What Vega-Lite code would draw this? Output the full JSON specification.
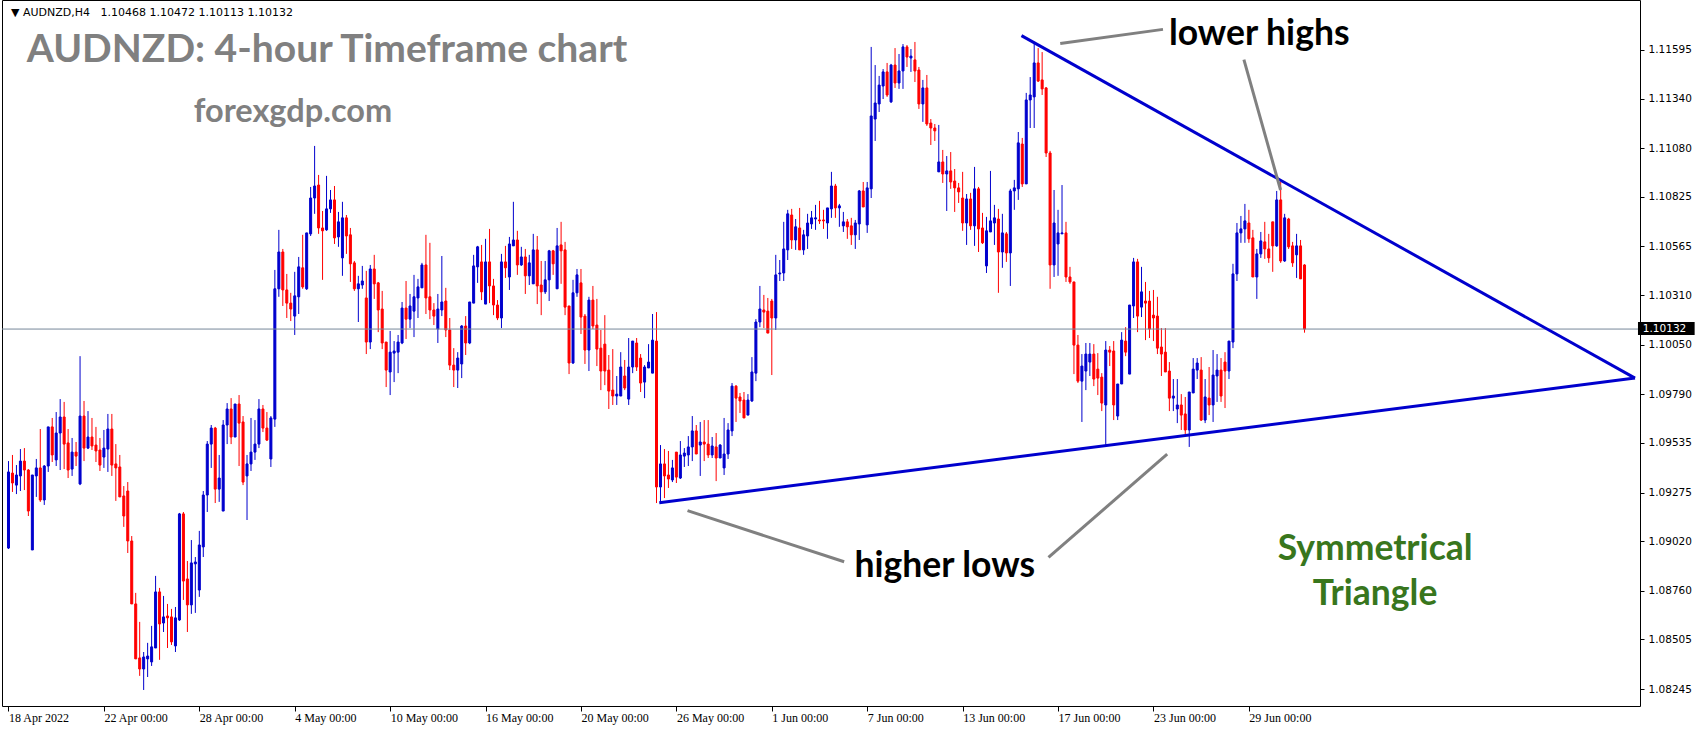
{
"$schema": "https://vega.github.io/schema/vega-lite/v6.json",
"width": 1638, "height": 706,
"autosize": {"type": "none"},
"padding": {"left": 2, "top": 0, "right": 64, "bottom": 24},
"background": "white",
"config": {
"view": {"stroke": "#000000", "strokeWidth": 1},
"axis": {"grid": false, "title": null, "domain": false, "tickColor": "#000000", "labelColor": "#000000", "labelBound": false, "labelOverlap": false, "labelFlush": false}
},
"datasets": {
"candles": [
{"i":0,"o":1.08984,"h":1.09440,"l":1.08979,"c":1.09383},
{"i":1,"o":1.09377,"h":1.09472,"l":1.09278,"c":1.09325},
{"i":2,"o":1.09314,"h":1.09419,"l":1.09267,"c":1.09367},
{"i":3,"o":1.09362,"h":1.09503,"l":1.09283,"c":1.09440},
{"i":4,"o":1.09440,"h":1.09508,"l":1.09288,"c":1.09393},
{"i":5,"o":1.09393,"h":1.09398,"l":1.09152,"c":1.09178},
{"i":6,"o":1.08974,"h":1.09367,"l":1.08974,"c":1.09367},
{"i":7,"o":1.09362,"h":1.09451,"l":1.09252,"c":1.09404},
{"i":8,"o":1.09404,"h":1.09608,"l":1.09226,"c":1.09236},
{"i":9,"o":1.09236,"h":1.09419,"l":1.09210,"c":1.09414},
{"i":10,"o":1.09414,"h":1.09619,"l":1.09383,"c":1.09619},
{"i":11,"o":1.09619,"h":1.09666,"l":1.09435,"c":1.09472},
{"i":12,"o":1.09446,"h":1.09697,"l":1.09414,"c":1.09587},
{"i":13,"o":1.09587,"h":1.09765,"l":1.09393,"c":1.09671},
{"i":14,"o":1.09671,"h":1.09750,"l":1.09398,"c":1.09529},
{"i":15,"o":1.09535,"h":1.09608,"l":1.09351,"c":1.09393},
{"i":16,"o":1.09398,"h":1.09561,"l":1.09362,"c":1.09487},
{"i":17,"o":1.09487,"h":1.09540,"l":1.09414,"c":1.09466},
{"i":18,"o":1.09320,"h":1.09990,"l":1.09314,"c":1.09676},
{"i":19,"o":1.09676,"h":1.09755,"l":1.09440,"c":1.09508},
{"i":20,"o":1.09508,"h":1.09702,"l":1.09503,"c":1.09566},
{"i":21,"o":1.09566,"h":1.09666,"l":1.09498,"c":1.09519},
{"i":22,"o":1.09524,"h":1.09619,"l":1.09435,"c":1.09493},
{"i":23,"o":1.09498,"h":1.09561,"l":1.09388,"c":1.09419},
{"i":24,"o":1.09461,"h":1.09603,"l":1.09404,"c":1.09508},
{"i":25,"o":1.09503,"h":1.09687,"l":1.09383,"c":1.09608},
{"i":26,"o":1.09608,"h":1.09687,"l":1.09362,"c":1.09419},
{"i":27,"o":1.09425,"h":1.09529,"l":1.09231,"c":1.09404},
{"i":28,"o":1.09409,"h":1.09472,"l":1.09252,"c":1.09252},
{"i":29,"o":1.09257,"h":1.09309,"l":1.09095,"c":1.09152},
{"i":30,"o":1.09283,"h":1.09330,"l":1.08958,"c":1.09021},
{"i":31,"o":1.09021,"h":1.09047,"l":1.08691,"c":1.08691},
{"i":32,"o":1.08691,"h":1.08749,"l":1.08403,"c":1.08403},
{"i":33,"o":1.08408,"h":1.08597,"l":1.08314,"c":1.08350},
{"i":34,"o":1.08350,"h":1.08439,"l":1.08240,"c":1.08413},
{"i":35,"o":1.08403,"h":1.08487,"l":1.08308,"c":1.08418},
{"i":36,"o":1.08387,"h":1.08576,"l":1.08366,"c":1.08466},
{"i":37,"o":1.08460,"h":1.08838,"l":1.08460,"c":1.08754},
{"i":38,"o":1.08754,"h":1.08775,"l":1.08398,"c":1.08586},
{"i":39,"o":1.08591,"h":1.08733,"l":1.08544,"c":1.08623},
{"i":40,"o":1.08628,"h":1.08691,"l":1.08460,"c":1.08618},
{"i":41,"o":1.08623,"h":1.08665,"l":1.08476,"c":1.08492},
{"i":42,"o":1.08471,"h":1.08675,"l":1.08439,"c":1.08618},
{"i":43,"o":1.08607,"h":1.09168,"l":1.08602,"c":1.09163},
{"i":44,"o":1.09163,"h":1.09173,"l":1.08712,"c":1.08811},
{"i":45,"o":1.08822,"h":1.08916,"l":1.08544,"c":1.08686},
{"i":46,"o":1.08686,"h":1.09026,"l":1.08639,"c":1.08906},
{"i":47,"o":1.08901,"h":1.08937,"l":1.08644,"c":1.08911},
{"i":48,"o":1.08764,"h":1.09074,"l":1.08728,"c":1.09000},
{"i":49,"o":1.08990,"h":1.09283,"l":1.08937,"c":1.09262},
{"i":50,"o":1.09262,"h":1.09545,"l":1.09173,"c":1.09529},
{"i":51,"o":1.09529,"h":1.09629,"l":1.09404,"c":1.09613},
{"i":52,"o":1.09613,"h":1.09619,"l":1.09220,"c":1.09293},
{"i":53,"o":1.09293,"h":1.09472,"l":1.09226,"c":1.09351},
{"i":54,"o":1.09178,"h":1.09655,"l":1.09178,"c":1.09629},
{"i":55,"o":1.09629,"h":1.09744,"l":1.09529,"c":1.09713},
{"i":56,"o":1.09713,"h":1.09770,"l":1.09529,"c":1.09566},
{"i":57,"o":1.09566,"h":1.09739,"l":1.09566,"c":1.09739},
{"i":58,"o":1.09739,"h":1.09786,"l":1.09414,"c":1.09639},
{"i":59,"o":1.09645,"h":1.09676,"l":1.09314,"c":1.09330},
{"i":60,"o":1.09362,"h":1.09472,"l":1.09131,"c":1.09425},
{"i":61,"o":1.09425,"h":1.09666,"l":1.09388,"c":1.09487},
{"i":62,"o":1.09487,"h":1.09655,"l":1.09446,"c":1.09529},
{"i":63,"o":1.09529,"h":1.09765,"l":1.09508,"c":1.09713},
{"i":64,"o":1.09713,"h":1.09734,"l":1.09592,"c":1.09613},
{"i":65,"o":1.09613,"h":1.09697,"l":1.09545,"c":1.09550},
{"i":66,"o":1.09451,"h":1.09676,"l":1.09409,"c":1.09666},
{"i":67,"o":1.09660,"h":1.10442,"l":1.09619,"c":1.10343},
{"i":68,"o":1.10343,"h":1.10652,"l":1.10301,"c":1.10536},
{"i":69,"o":1.10536,"h":1.10552,"l":1.10253,"c":1.10337},
{"i":70,"o":1.10337,"h":1.10421,"l":1.10190,"c":1.10268},
{"i":71,"o":1.10268,"h":1.10322,"l":1.10174,"c":1.10237},
{"i":72,"o":1.10200,"h":1.10432,"l":1.10101,"c":1.10306},
{"i":73,"o":1.10301,"h":1.10510,"l":1.10211,"c":1.10458},
{"i":74,"o":1.10453,"h":1.10626,"l":1.10343,"c":1.10353},
{"i":75,"o":1.10343,"h":1.10636,"l":1.10337,"c":1.10636},
{"i":76,"o":1.10631,"h":1.10877,"l":1.10620,"c":1.10819},
{"i":77,"o":1.10819,"h":1.11092,"l":1.10736,"c":1.10882},
{"i":78,"o":1.10887,"h":1.10940,"l":1.10631,"c":1.10662},
{"i":79,"o":1.10662,"h":1.10751,"l":1.10390,"c":1.10647},
{"i":80,"o":1.10652,"h":1.10935,"l":1.10647,"c":1.10762},
{"i":81,"o":1.10762,"h":1.10861,"l":1.10741,"c":1.10809},
{"i":82,"o":1.10809,"h":1.10882,"l":1.10578,"c":1.10610},
{"i":83,"o":1.10615,"h":1.10746,"l":1.10563,"c":1.10694},
{"i":84,"o":1.10505,"h":1.10799,"l":1.10411,"c":1.10715},
{"i":85,"o":1.10715,"h":1.10730,"l":1.10526,"c":1.10620},
{"i":86,"o":1.10626,"h":1.10662,"l":1.10379,"c":1.10474},
{"i":87,"o":1.10479,"h":1.10489,"l":1.10332,"c":1.10343},
{"i":88,"o":1.10343,"h":1.10411,"l":1.10169,"c":1.10369},
{"i":89,"o":1.10363,"h":1.10463,"l":1.10343,"c":1.10384},
{"i":90,"o":1.10295,"h":1.10437,"l":1.10001,"c":1.10064},
{"i":91,"o":1.10064,"h":1.10468,"l":1.10027,"c":1.10447},
{"i":92,"o":1.10447,"h":1.10521,"l":1.10290,"c":1.10369},
{"i":93,"o":1.10374,"h":1.10379,"l":1.10116,"c":1.10232},
{"i":94,"o":1.10237,"h":1.10332,"l":1.10027,"c":1.10059},
{"i":95,"o":1.10064,"h":1.10064,"l":1.09828,"c":1.09917},
{"i":96,"o":1.09907,"h":1.10122,"l":1.09786,"c":1.10011},
{"i":97,"o":1.10006,"h":1.10069,"l":1.09854,"c":1.10017},
{"i":98,"o":1.10011,"h":1.10101,"l":1.09901,"c":1.10064},
{"i":99,"o":1.10059,"h":1.10274,"l":1.10053,"c":1.10242},
{"i":100,"o":1.10242,"h":1.10384,"l":1.10080,"c":1.10184},
{"i":101,"o":1.10184,"h":1.10316,"l":1.10137,"c":1.10253},
{"i":102,"o":1.10226,"h":1.10416,"l":1.10090,"c":1.10301},
{"i":103,"o":1.10295,"h":1.10395,"l":1.10190,"c":1.10353},
{"i":104,"o":1.10348,"h":1.10479,"l":1.10348,"c":1.10468},
{"i":105,"o":1.10468,"h":1.10626,"l":1.10211,"c":1.10295},
{"i":106,"o":1.10301,"h":1.10584,"l":1.10184,"c":1.10232},
{"i":107,"o":1.10232,"h":1.10268,"l":1.10153,"c":1.10200},
{"i":108,"o":1.10132,"h":1.10316,"l":1.10059,"c":1.10237},
{"i":109,"o":1.10232,"h":1.10515,"l":1.10200,"c":1.10274},
{"i":110,"o":1.10279,"h":1.10348,"l":1.10090,"c":1.10127},
{"i":111,"o":1.10127,"h":1.10190,"l":1.09917,"c":1.09943},
{"i":112,"o":1.09943,"h":1.10032,"l":1.09828,"c":1.09917},
{"i":113,"o":1.09917,"h":1.10011,"l":1.09823,"c":1.09980},
{"i":114,"o":1.09949,"h":1.10153,"l":1.09875,"c":1.10148},
{"i":115,"o":1.10148,"h":1.10200,"l":1.09996,"c":1.10059},
{"i":116,"o":1.10059,"h":1.10274,"l":1.10053,"c":1.10274},
{"i":117,"o":1.10268,"h":1.10521,"l":1.10268,"c":1.10463},
{"i":118,"o":1.10458,"h":1.10568,"l":1.10374,"c":1.10563},
{"i":119,"o":1.10484,"h":1.10573,"l":1.10284,"c":1.10327},
{"i":120,"o":1.10263,"h":1.10605,"l":1.10263,"c":1.10484},
{"i":121,"o":1.10484,"h":1.10657,"l":1.10268,"c":1.10358},
{"i":122,"o":1.10358,"h":1.10395,"l":1.10205,"c":1.10258},
{"i":123,"o":1.10258,"h":1.10284,"l":1.10179,"c":1.10190},
{"i":124,"o":1.10190,"h":1.10526,"l":1.10137,"c":1.10484},
{"i":125,"o":1.10484,"h":1.10568,"l":1.10400,"c":1.10453},
{"i":126,"o":1.10405,"h":1.10615,"l":1.10337,"c":1.10578},
{"i":127,"o":1.10568,"h":1.10799,"l":1.10568,"c":1.10599},
{"i":128,"o":1.10599,"h":1.10647,"l":1.10416,"c":1.10468},
{"i":129,"o":1.10468,"h":1.10563,"l":1.10463,"c":1.10510},
{"i":130,"o":1.10510,"h":1.10552,"l":1.10316,"c":1.10411},
{"i":131,"o":1.10411,"h":1.10521,"l":1.10363,"c":1.10479},
{"i":132,"o":1.10369,"h":1.10631,"l":1.10369,"c":1.10547},
{"i":133,"o":1.10547,"h":1.10620,"l":1.10263,"c":1.10358},
{"i":134,"o":1.10363,"h":1.10489,"l":1.10205,"c":1.10327},
{"i":135,"o":1.10327,"h":1.10489,"l":1.10316,"c":1.10390},
{"i":136,"o":1.10390,"h":1.10547,"l":1.10279,"c":1.10542},
{"i":137,"o":1.10542,"h":1.10547,"l":1.10416,"c":1.10474},
{"i":138,"o":1.10343,"h":1.10662,"l":1.10343,"c":1.10568},
{"i":139,"o":1.10573,"h":1.10694,"l":1.10369,"c":1.10542},
{"i":140,"o":1.10547,"h":1.10589,"l":1.10205,"c":1.10247},
{"i":141,"o":1.10253,"h":1.10253,"l":1.09896,"c":1.09954},
{"i":142,"o":1.09954,"h":1.10390,"l":1.09949,"c":1.10322},
{"i":143,"o":1.10322,"h":1.10447,"l":1.10301,"c":1.10416},
{"i":144,"o":1.10374,"h":1.10447,"l":1.10106,"c":1.10195},
{"i":145,"o":1.10200,"h":1.10211,"l":1.09949,"c":1.10022},
{"i":146,"o":1.10022,"h":1.10301,"l":1.09912,"c":1.10284},
{"i":147,"o":1.10284,"h":1.10358,"l":1.10132,"c":1.10148},
{"i":148,"o":1.10153,"h":1.10290,"l":1.09938,"c":1.10027},
{"i":149,"o":1.10032,"h":1.10127,"l":1.09812,"c":1.09912},
{"i":150,"o":1.10053,"h":1.10205,"l":1.09838,"c":1.09912},
{"i":151,"o":1.09917,"h":1.09996,"l":1.09713,"c":1.09807},
{"i":152,"o":1.09812,"h":1.10027,"l":1.09734,"c":1.09781},
{"i":153,"o":1.09781,"h":1.09886,"l":1.09734,"c":1.09791},
{"i":154,"o":1.09781,"h":1.10011,"l":1.09781,"c":1.09933},
{"i":155,"o":1.09886,"h":1.09970,"l":1.09812,"c":1.09823},
{"i":156,"o":1.09765,"h":1.10085,"l":1.09734,"c":1.09933},
{"i":157,"o":1.09933,"h":1.10069,"l":1.09901,"c":1.10069},
{"i":158,"o":1.10059,"h":1.10085,"l":1.09912,"c":1.09933},
{"i":159,"o":1.09980,"h":1.10001,"l":1.09802,"c":1.09849},
{"i":160,"o":1.09854,"h":1.09943,"l":1.09770,"c":1.09933},
{"i":161,"o":1.09928,"h":1.10053,"l":1.09928,"c":1.09959},
{"i":162,"o":1.09901,"h":1.10211,"l":1.09901,"c":1.10074},
{"i":163,"o":1.10069,"h":1.10221,"l":1.09220,"c":1.09304},
{"i":164,"o":1.09304,"h":1.09524,"l":1.09220,"c":1.09425},
{"i":165,"o":1.09425,"h":1.09503,"l":1.09246,"c":1.09362},
{"i":166,"o":1.09367,"h":1.09493,"l":1.09299,"c":1.09346},
{"i":167,"o":1.09341,"h":1.09446,"l":1.09330,"c":1.09404},
{"i":168,"o":1.09487,"h":1.09487,"l":1.09325,"c":1.09356},
{"i":169,"o":1.09351,"h":1.09545,"l":1.09346,"c":1.09472},
{"i":170,"o":1.09466,"h":1.09508,"l":1.09409,"c":1.09482},
{"i":171,"o":1.09472,"h":1.09571,"l":1.09414,"c":1.09514},
{"i":172,"o":1.09514,"h":1.09676,"l":1.09440,"c":1.09598},
{"i":173,"o":1.09598,"h":1.09629,"l":1.09477,"c":1.09477},
{"i":174,"o":1.09524,"h":1.09645,"l":1.09362,"c":1.09540},
{"i":175,"o":1.09540,"h":1.09655,"l":1.09440,"c":1.09529},
{"i":176,"o":1.09529,"h":1.09655,"l":1.09456,"c":1.09472},
{"i":177,"o":1.09472,"h":1.09566,"l":1.09456,"c":1.09519},
{"i":178,"o":1.09514,"h":1.09587,"l":1.09335,"c":1.09456},
{"i":179,"o":1.09456,"h":1.09529,"l":1.09456,"c":1.09524},
{"i":180,"o":1.09404,"h":1.09666,"l":1.09367,"c":1.09477},
{"i":181,"o":1.09477,"h":1.09639,"l":1.09451,"c":1.09603},
{"i":182,"o":1.09598,"h":1.09849,"l":1.09571,"c":1.09833},
{"i":183,"o":1.09833,"h":1.09838,"l":1.09645,"c":1.09770},
{"i":184,"o":1.09776,"h":1.09797,"l":1.09692,"c":1.09755},
{"i":185,"o":1.09760,"h":1.09802,"l":1.09666,"c":1.09666},
{"i":186,"o":1.09681,"h":1.09791,"l":1.09681,"c":1.09760},
{"i":187,"o":1.09755,"h":1.09985,"l":1.09750,"c":1.09907},
{"i":188,"o":1.09901,"h":1.10184,"l":1.09859,"c":1.10169},
{"i":189,"o":1.10169,"h":1.10358,"l":1.10142,"c":1.10237},
{"i":190,"o":1.10232,"h":1.10311,"l":1.10137,"c":1.10221},
{"i":191,"o":1.10226,"h":1.10295,"l":1.10111,"c":1.10111},
{"i":192,"o":1.10279,"h":1.10290,"l":1.09891,"c":1.10190},
{"i":193,"o":1.10190,"h":1.10521,"l":1.10127,"c":1.10416},
{"i":194,"o":1.10421,"h":1.10494,"l":1.10384,"c":1.10426},
{"i":195,"o":1.10426,"h":1.10694,"l":1.10384,"c":1.10552},
{"i":196,"o":1.10547,"h":1.10757,"l":1.10494,"c":1.10736},
{"i":197,"o":1.10730,"h":1.10762,"l":1.10552,"c":1.10599},
{"i":198,"o":1.10599,"h":1.10709,"l":1.10547,"c":1.10668},
{"i":199,"o":1.10662,"h":1.10767,"l":1.10547,"c":1.10547},
{"i":200,"o":1.10547,"h":1.10652,"l":1.10521,"c":1.10626},
{"i":201,"o":1.10620,"h":1.10736,"l":1.10552,"c":1.10688},
{"i":202,"o":1.10683,"h":1.10751,"l":1.10657,"c":1.10715},
{"i":203,"o":1.10709,"h":1.10783,"l":1.10652,"c":1.10715},
{"i":204,"o":1.10704,"h":1.10804,"l":1.10683,"c":1.10699},
{"i":205,"o":1.10704,"h":1.10757,"l":1.10657,"c":1.10699},
{"i":206,"o":1.10688,"h":1.10767,"l":1.10605,"c":1.10767},
{"i":207,"o":1.10762,"h":1.10956,"l":1.10715,"c":1.10882},
{"i":208,"o":1.10882,"h":1.10893,"l":1.10715,"c":1.10767},
{"i":209,"o":1.10767,"h":1.10788,"l":1.10668,"c":1.10778},
{"i":210,"o":1.10673,"h":1.10746,"l":1.10641,"c":1.10694},
{"i":211,"o":1.10694,"h":1.10709,"l":1.10605,"c":1.10668},
{"i":212,"o":1.10673,"h":1.10715,"l":1.10573,"c":1.10626},
{"i":213,"o":1.10626,"h":1.10704,"l":1.10552,"c":1.10688},
{"i":214,"o":1.10683,"h":1.10861,"l":1.10599,"c":1.10856},
{"i":215,"o":1.10856,"h":1.10903,"l":1.10772,"c":1.10772},
{"i":216,"o":1.10678,"h":1.10903,"l":1.10636,"c":1.10872},
{"i":217,"o":1.10867,"h":1.11611,"l":1.10819,"c":1.11249},
{"i":218,"o":1.11233,"h":1.11516,"l":1.11118,"c":1.11317},
{"i":219,"o":1.11312,"h":1.11459,"l":1.11270,"c":1.11411},
{"i":220,"o":1.11406,"h":1.11495,"l":1.11338,"c":1.11480},
{"i":221,"o":1.11480,"h":1.11527,"l":1.11349,"c":1.11359},
{"i":222,"o":1.11323,"h":1.11522,"l":1.11317,"c":1.11516},
{"i":223,"o":1.11516,"h":1.11605,"l":1.11396,"c":1.11422},
{"i":224,"o":1.11422,"h":1.11574,"l":1.11391,"c":1.11485},
{"i":225,"o":1.11485,"h":1.11626,"l":1.11391,"c":1.11611},
{"i":226,"o":1.11611,"h":1.11621,"l":1.11506,"c":1.11558},
{"i":227,"o":1.11553,"h":1.11600,"l":1.11480,"c":1.11563},
{"i":228,"o":1.11543,"h":1.11637,"l":1.11427,"c":1.11485},
{"i":229,"o":1.11490,"h":1.11506,"l":1.11286,"c":1.11312},
{"i":230,"o":1.11312,"h":1.11438,"l":1.11218,"c":1.11396},
{"i":231,"o":1.11396,"h":1.11464,"l":1.11197,"c":1.11207},
{"i":232,"o":1.11212,"h":1.11233,"l":1.11097,"c":1.11186},
{"i":233,"o":1.11186,"h":1.11207,"l":1.11118,"c":1.11171},
{"i":234,"o":1.10956,"h":1.11202,"l":1.10956,"c":1.11008},
{"i":235,"o":1.11008,"h":1.11071,"l":1.10898,"c":1.10945},
{"i":236,"o":1.10945,"h":1.11039,"l":1.10751,"c":1.10961},
{"i":237,"o":1.10961,"h":1.11060,"l":1.10867,"c":1.10903},
{"i":238,"o":1.10908,"h":1.10971,"l":1.10746,"c":1.10872},
{"i":239,"o":1.10872,"h":1.10898,"l":1.10793,"c":1.10851},
{"i":240,"o":1.10819,"h":1.10956,"l":1.10647,"c":1.10688},
{"i":241,"o":1.10688,"h":1.10840,"l":1.10573,"c":1.10814},
{"i":242,"o":1.10814,"h":1.10846,"l":1.10652,"c":1.10673},
{"i":243,"o":1.10673,"h":1.10982,"l":1.10568,"c":1.10867},
{"i":244,"o":1.10867,"h":1.10877,"l":1.10536,"c":1.10657},
{"i":245,"o":1.10662,"h":1.10741,"l":1.10578,"c":1.10584},
{"i":246,"o":1.10463,"h":1.10720,"l":1.10426,"c":1.10647},
{"i":247,"o":1.10641,"h":1.10961,"l":1.10641,"c":1.10699},
{"i":248,"o":1.10688,"h":1.10783,"l":1.10573,"c":1.10715},
{"i":249,"o":1.10709,"h":1.10762,"l":1.10322,"c":1.10536},
{"i":250,"o":1.10536,"h":1.10736,"l":1.10453,"c":1.10636},
{"i":251,"o":1.10631,"h":1.10641,"l":1.10484,"c":1.10531},
{"i":252,"o":1.10531,"h":1.10867,"l":1.10358,"c":1.10856},
{"i":253,"o":1.10856,"h":1.10914,"l":1.10757,"c":1.10872},
{"i":254,"o":1.10867,"h":1.11165,"l":1.10809,"c":1.11108},
{"i":255,"o":1.11102,"h":1.11134,"l":1.10877,"c":1.10893},
{"i":256,"o":1.10893,"h":1.11370,"l":1.10893,"c":1.11333},
{"i":257,"o":1.11333,"h":1.11453,"l":1.11186,"c":1.11359},
{"i":258,"o":1.11349,"h":1.11637,"l":1.11186,"c":1.11527},
{"i":259,"o":1.11527,"h":1.11605,"l":1.11427,"c":1.11432},
{"i":260,"o":1.11438,"h":1.11584,"l":1.11359,"c":1.11391},
{"i":261,"o":1.11396,"h":1.11401,"l":1.11034,"c":1.11055},
{"i":262,"o":1.11055,"h":1.11066,"l":1.10343,"c":1.10468},
{"i":263,"o":1.10468,"h":1.10861,"l":1.10405,"c":1.10688},
{"i":264,"o":1.10578,"h":1.10757,"l":1.10411,"c":1.10636},
{"i":265,"o":1.10631,"h":1.10887,"l":1.10631,"c":1.10636},
{"i":266,"o":1.10636,"h":1.10694,"l":1.10379,"c":1.10405},
{"i":267,"o":1.10405,"h":1.10458,"l":1.10369,"c":1.10379},
{"i":268,"o":1.10379,"h":1.10379,"l":1.09896,"c":1.10048},
{"i":269,"o":1.10048,"h":1.10101,"l":1.09849,"c":1.09859},
{"i":270,"o":1.09859,"h":1.10001,"l":1.09645,"c":1.09938},
{"i":271,"o":1.09912,"h":1.10059,"l":1.09812,"c":1.10001},
{"i":272,"o":1.09959,"h":1.10059,"l":1.09886,"c":1.10001},
{"i":273,"o":1.10001,"h":1.10053,"l":1.09833,"c":1.09870},
{"i":274,"o":1.09922,"h":1.10006,"l":1.09786,"c":1.09875},
{"i":275,"o":1.09880,"h":1.09901,"l":1.09702,"c":1.09744},
{"i":276,"o":1.09734,"h":1.10069,"l":1.09524,"c":1.10022},
{"i":277,"o":1.10022,"h":1.10043,"l":1.09938,"c":1.10011},
{"i":278,"o":1.10017,"h":1.10069,"l":1.09655,"c":1.09734},
{"i":279,"o":1.09676,"h":1.09844,"l":1.09655,"c":1.09844},
{"i":280,"o":1.09844,"h":1.10116,"l":1.09844,"c":1.10074},
{"i":281,"o":1.10069,"h":1.10142,"l":1.09990,"c":1.10011},
{"i":282,"o":1.09896,"h":1.10258,"l":1.09896,"c":1.10258},
{"i":283,"o":1.10253,"h":1.10505,"l":1.10190,"c":1.10484},
{"i":284,"o":1.10484,"h":1.10500,"l":1.10116,"c":1.10200},
{"i":285,"o":1.10247,"h":1.10458,"l":1.10195,"c":1.10327},
{"i":286,"o":1.10279,"h":1.10379,"l":1.10074,"c":1.10268},
{"i":287,"o":1.10279,"h":1.10332,"l":1.10085,"c":1.10132},
{"i":288,"o":1.10205,"h":1.10337,"l":1.10069,"c":1.10190},
{"i":289,"o":1.10200,"h":1.10301,"l":1.10001,"c":1.10032},
{"i":290,"o":1.10038,"h":1.10137,"l":1.09886,"c":1.10001},
{"i":291,"o":1.10011,"h":1.10137,"l":1.09907,"c":1.09907},
{"i":292,"o":1.09912,"h":1.09959,"l":1.09702,"c":1.09770},
{"i":293,"o":1.09770,"h":1.09870,"l":1.09702,"c":1.09781},
{"i":294,"o":1.09713,"h":1.09870,"l":1.09639,"c":1.09734},
{"i":295,"o":1.09734,"h":1.09791,"l":1.09603,"c":1.09681},
{"i":296,"o":1.09687,"h":1.09776,"l":1.09582,"c":1.09603},
{"i":297,"o":1.09603,"h":1.09802,"l":1.09514,"c":1.09802},
{"i":298,"o":1.09797,"h":1.09980,"l":1.09797,"c":1.09922},
{"i":299,"o":1.09917,"h":1.09980,"l":1.09870,"c":1.09954},
{"i":300,"o":1.09917,"h":1.09985,"l":1.09650,"c":1.09655},
{"i":301,"o":1.09655,"h":1.09870,"l":1.09639,"c":1.09776},
{"i":302,"o":1.09770,"h":1.09933,"l":1.09681,"c":1.09734},
{"i":303,"o":1.09734,"h":1.10022,"l":1.09645,"c":1.09891},
{"i":304,"o":1.09886,"h":1.10001,"l":1.09750,"c":1.09917},
{"i":305,"o":1.09917,"h":1.09980,"l":1.09750,"c":1.09781},
{"i":306,"o":1.09959,"h":1.10011,"l":1.09718,"c":1.09912},
{"i":307,"o":1.09912,"h":1.10069,"l":1.09870,"c":1.10069},
{"i":308,"o":1.10064,"h":1.10474,"l":1.10032,"c":1.10421},
{"i":309,"o":1.10421,"h":1.10688,"l":1.10384,"c":1.10636},
{"i":310,"o":1.10636,"h":1.10725,"l":1.10584,"c":1.10657},
{"i":311,"o":1.10657,"h":1.10788,"l":1.10584,"c":1.10699},
{"i":312,"o":1.10688,"h":1.10757,"l":1.10584,"c":1.10605},
{"i":313,"o":1.10610,"h":1.10652,"l":1.10405,"c":1.10405},
{"i":314,"o":1.10405,"h":1.10552,"l":1.10290,"c":1.10526},
{"i":315,"o":1.10526,"h":1.10641,"l":1.10505,"c":1.10594},
{"i":316,"o":1.10589,"h":1.10694,"l":1.10500,"c":1.10552},
{"i":317,"o":1.10552,"h":1.10631,"l":1.10479,"c":1.10505},
{"i":318,"o":1.10694,"h":1.10694,"l":1.10432,"c":1.10568},
{"i":319,"o":1.10568,"h":1.10856,"l":1.10563,"c":1.10809},
{"i":320,"o":1.10809,"h":1.10903,"l":1.10479,"c":1.10489},
{"i":321,"o":1.10489,"h":1.10736,"l":1.10484,"c":1.10715},
{"i":322,"o":1.10709,"h":1.10715,"l":1.10552,"c":1.10563},
{"i":323,"o":1.10568,"h":1.10589,"l":1.10458,"c":1.10479},
{"i":324,"o":1.10521,"h":1.10631,"l":1.10400,"c":1.10568},
{"i":325,"o":1.10568,"h":1.10599,"l":1.10395,"c":1.10395},
{"i":326,"o":1.10468,"h":1.10472,"l":1.10113,"c":1.10132}
]
},
"layer": [
{
"data": {"name": "candles"},
"mark": {"type": "rule", "strokeWidth": 1},
"encoding": {
"x": {"field": "i", "type": "quantitative", "scale": {"domain": [-0.375, 409.125], "nice": false, "zero": false},
"axis": {"orient": "bottom", "values": [0,24,48,72,96,120,144,168,192,216,240,264,288,312], "labelExpr": "['18 Apr 2022','22 Apr 00:00','28 Apr 00:00','4 May 00:00','10 May 00:00','16 May 00:00','20 May 00:00','26 May 00:00','1 Jun 00:00','7 Jun 00:00','13 Jun 00:00','17 Jun 00:00','23 Jun 00:00','29 Jun 00:00'][datum.value / 24]", "labelAlign": "left", "tickSize": 5, "labelFont": "Liberation Sans Narrow", "labelFontSize": 12, "labelPadding": 1}},
"y": {"field": "l", "type": "quantitative", "scale": {"domain": [1.08156, 1.11857], "nice": false, "zero": false},
"axis": {"orient": "right", "values": [1.08245,1.08505,1.0876,1.0902,1.09275,1.09535,1.0979,1.1005,1.1031,1.10565,1.10825,1.1108,1.1134,1.11595], "format": ".5f", "tickSize": 4, "labelFont": "DejaVu Sans", "labelFontSize": 10.5, "labelPadding": 4}},
"y2": {"field": "h"},
"color": {"condition": {"test": "datum.c >= datum.o", "value": "#0000cd"}, "value": "#ff0000"}
}
},
{
"data": {"name": "candles"},
"mark": {"type": "bar", "size": 2, "strokeWidth": 1},
"encoding": {
"x": {"field": "i", "type": "quantitative"},
"y": {"field": "o", "type": "quantitative"},
"y2": {"field": "c"},
"color": {"condition": {"test": "datum.c >= datum.o", "value": "#0000cd"}, "value": "#ff0000"},
"stroke": {"condition": {"test": "datum.c >= datum.o", "value": "#0000cd"}, "value": "#ff0000"}
}
},
{
"data": {"values": [{"p": 1.10132}]},
"mark": {"type": "rule", "color": "#778899", "strokeWidth": 1},
"encoding": {
"y": {"field": "p", "type": "quantitative"}
}
},
{
"data": {"values": [
{"x1": 254.8, "p1": 1.1167, "x2": 409.125, "p2": 1.09875},
{"x1": 163.7, "p1": 1.09222, "x2": 409.125, "p2": 1.09875}
]},
"mark": {"type": "rule", "color": "#0000cd", "strokeWidth": 3},
"encoding": {
"x": {"field": "x1", "type": "quantitative"},
"y": {"field": "p1", "type": "quantitative"},
"x2": {"field": "x2"},
"y2": {"field": "p2"}
}
},
{
"data": {"values": [
{"x1": 264.55, "p1": 1.11629, "x2": 290.4, "p2": 1.11703},
{"x1": 310.75, "p1": 1.11544, "x2": 319.97, "p2": 1.10861},
{"x1": 170.8, "p1": 1.0918, "x2": 210.2, "p2": 1.08912},
{"x1": 261.6, "p1": 1.08935, "x2": 291.45, "p2": 1.09476}
]},
"mark": {"type": "rule", "color": "#808080", "strokeWidth": 3},
"encoding": {
"x": {"field": "x1", "type": "quantitative"},
"y": {"field": "p1", "type": "quantitative"},
"x2": {"field": "x2"},
"y2": {"field": "p2"}
}
},
{
"data": {"values": [{"x1": 409.875, "x2": 424.125, "p1": 1.10169, "p2": 1.10101}]},
"mark": {"type": "rect", "color": "#000000"},
"encoding": {
"x": {"field": "x1", "type": "quantitative"},
"x2": {"field": "x2"},
"y": {"field": "p1", "type": "quantitative"},
"y2": {"field": "p2"}
}
},
{
"data": {"values": [{"x": 411.1, "p": 1.10132, "t": "1.10132"}]},
"mark": {"type": "text", "color": "#ffffff", "font": "DejaVu Sans", "fontSize": 10.5, "align": "left", "baseline": "middle"},
"encoding": {
"x": {"field": "x", "type": "quantitative"},
"y": {"field": "p", "type": "quantitative"},
"text": {"field": "t"}
}
},
{
"data": {"values": [{"x": 0.625, "p": 1.11789, "t": "▼ AUDNZD,H4\u00a0\u00a0 1.10468 1.10472 1.10113 1.10132"}]},
"mark": {"type": "text", "color": "#000000", "font": "DejaVu Sans", "fontSize": 11, "align": "left", "baseline": "middle"},
"encoding": {
"x": {"field": "x", "type": "quantitative"},
"y": {"field": "p", "type": "quantitative"},
"text": {"field": "t"}
}
},
{
"data": {"values": [
{"x": 4.6, "p": 1.11595, "t": "AUDNZD: 4-hour Timeframe chart", "s": 39},
{"x": 46.6, "p": 1.1127, "t": "forexgdp.com", "s": 32.5}
]},
"mark": {"type": "text", "color": "#808080", "font": "Lato", "fontWeight": "bold", "align": "left", "baseline": "middle"},
"encoding": {
"x": {"field": "x", "type": "quantitative"},
"y": {"field": "p", "type": "quantitative"},
"text": {"field": "t"},
"size": {"field": "s", "type": "quantitative", "scale": null, "legend": null}
}
},
{
"data": {"values": [
{"x": 314.6, "p": 1.1168, "t": "lower highs"},
{"x": 235.5, "p": 1.0889, "t": "higher lows"}
]},
"mark": {"type": "text", "color": "#000000", "font": "Lato", "fontWeight": "bold", "fontSize": 35.5, "align": "center", "baseline": "middle"},
"encoding": {
"x": {"field": "x", "type": "quantitative"},
"y": {"field": "p", "type": "quantitative"},
"text": {"field": "t"}
}
},
{
"data": {"values": [
{"x": 343.75, "p": 1.08979, "t": "Symmetrical"},
{"x": 343.75, "p": 1.08743, "t": "Triangle"}
]},
"mark": {"type": "text", "color": "#38761d", "font": "Lato", "fontWeight": "bold", "fontSize": 35.5, "align": "center", "baseline": "middle"},
"encoding": {
"x": {"field": "x", "type": "quantitative"},
"y": {"field": "p", "type": "quantitative"},
"text": {"field": "t"}
}
}
]
}
